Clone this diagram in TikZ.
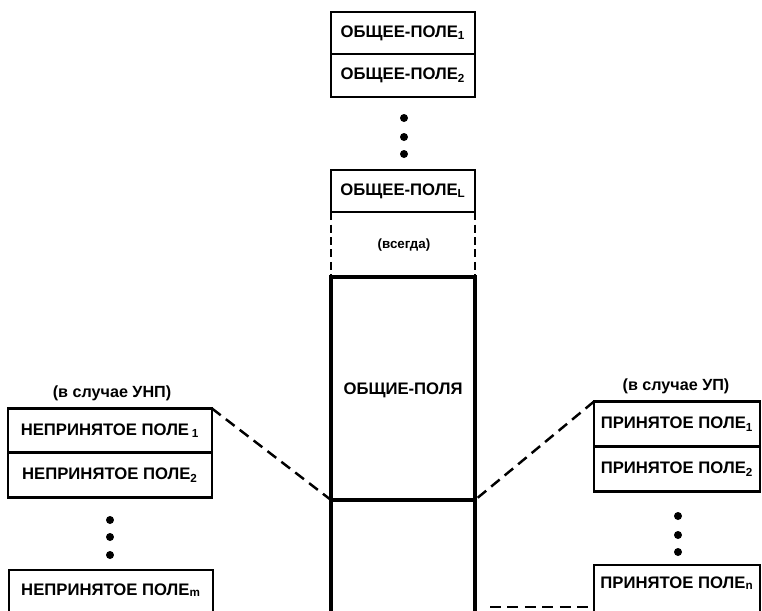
\documentclass[tikz,border=0pt]{standalone}
\usepackage{fontspec}
\setmainfont{Liberation Sans}

\tikzset{
  fieldbox/.style={rectangle, draw=black, line width=1.3pt, inner sep=0mm, outer sep=0pt, font=\fontsize{9.5}{11}\selectfont\bfseries},
  capt/.style={inner sep=0mm, font=\fontsize{9.2}{11}\selectfont\bfseries},
  blob/.style={circle, fill=black, inner sep=0mm, minimum size=1.6mm},
  gap/.style={line width=1.4pt, dash pattern=on 0.22cm off 0.13cm},
  sidegap/.style={line width=1.6pt, dash pattern=on 0.16cm off 0.09cm},
}

\begin{document}
\begin{tikzpicture}[x=0.02cm, y=-0.02cm]
\clip (0,0) rectangle (762,610);

	% common fields
	\node[fieldbox, minimum width=2.88cm, minimum height=0.84cm] at (403,33) (g1) {ОБЩЕЕ-ПОЛЕ\textsubscript{1}};
	\node[fieldbox, minimum width=2.88cm, minimum height=0.86cm] at (403,75.5) (g2) {ОБЩЕЕ-ПОЛЕ\textsubscript{2}};
	\foreach \y in {118,137,154} \node[blob] at (404,\y) (gdot\y) {};
	\node[fieldbox, minimum width=2.88cm, minimum height=0.84cm] at (403,191) (gL) {ОБЩЕЕ-ПОЛЕ\textsubscript{L}};

	\node[capt, font=\fontsize{7.6}{9}\selectfont\bfseries] at (404,245) (alw) {(всегда)};

	\node[fieldbox, line width=2pt, minimum width=2.88cm, minimum height=4.46cm, text depth=-0.28cm] at (403,388.5) (all) {ОБЩИЕ-ПОЛЯ};
	\draw[sidegap] (gL.south west) -- (all.north west);
	\draw[sidegap] (gL.south east) -- (all.north east);
	\draw[line width=2pt] (all.south west) -- ++(0,130);
	\draw[line width=2pt] (all.south east) -- ++(0,130);

	% rejected fields
	\node[capt] at (112,393) (ucap) {(в случае УНП)};
	\node[fieldbox, minimum width=4.08cm, minimum height=0.88cm] at (110,430.5) (u1) {НЕПРИНЯТОЕ ПОЛЕ\,\textsubscript{1}};
	\node[fieldbox, minimum width=4.08cm, minimum height=0.9cm] at (110,475) (u2) {НЕПРИНЯТОЕ ПОЛЕ\textsubscript{2}};
	\foreach \y in {520,537,555} \node[blob] at (110,\y) (udot\y) {};
	\node[fieldbox, minimum width=4.08cm, text height=0.5cm, text depth=0.5cm, anchor=north] at (111,570) (um) {НЕПРИНЯТОЕ ПОЛЕ\textsubscript{m}};
	\draw[gap] (u1.north east) -- (all.south west);

	% accepted fields
	\node[capt] at (676,386) (pcap) {(в случае УП)};
	\node[fieldbox, minimum width=3.32cm, minimum height=0.9cm] at (677,424) (p1) {ПРИНЯТОЕ ПОЛЕ\textsubscript{1}};
	\node[fieldbox, minimum width=3.32cm, minimum height=0.9cm] at (677,469) (p2) {ПРИНЯТОЕ ПОЛЕ\textsubscript{2}};
	\foreach \y in {516,535,552} \node[blob] at (678,\y) (pdot\y) {};
	\node[fieldbox, minimum width=3.32cm, text height=0.46cm, text depth=0.6cm, anchor=north] at (677,565) (pn) {ПРИНЯТОЕ ПОЛЕ\textsubscript{n}};
	\draw[gap] (p1.north west) -- (all.south east);

	\coordinate (bend) at (490,607);
	\draw[gap] (bend) -- (pn.west |- bend);

\end{tikzpicture}
\end{document}
